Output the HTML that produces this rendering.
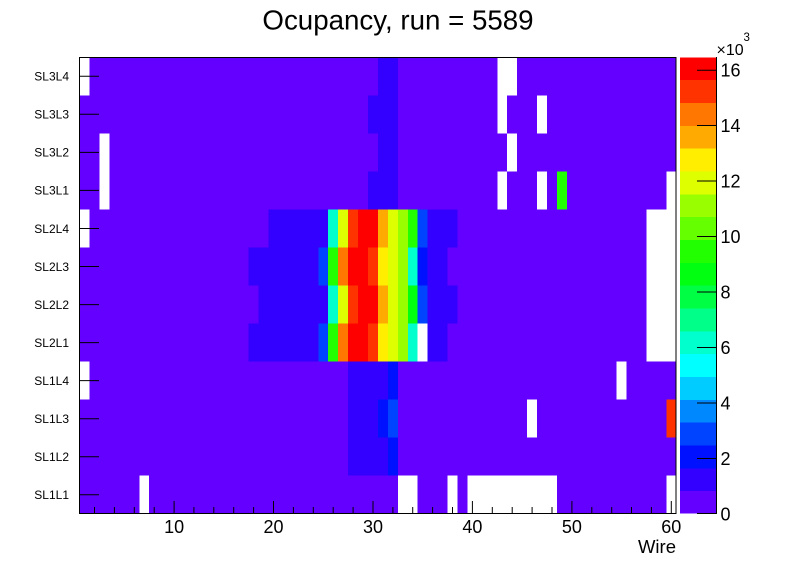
<!DOCTYPE html>
<html>
<head>
<meta charset="utf-8">
<style>
html,body{margin:0;padding:0;background:#fff;}
svg{display:block;}
text{font-family:"Liberation Sans",Arial,sans-serif;fill:#000;}
</style>
</head>
<body>
<svg width="796" height="572" viewBox="0 0 796 572" xmlns="http://www.w3.org/2000/svg">
<rect x="0" y="0" width="796" height="572" fill="#fff"/>
<text x="398" y="29.5" font-size="27.7" text-anchor="middle">Ocupancy, run = 5589</text>

<!-- plot cells in data units: x = wire-1, y = row index from top -->
<g transform="translate(79.6,57.3) scale(9.945,38.03)" shape-rendering="crispEdges">
<rect x="0" y="0" width="60" height="12" fill="#6300ff"/>
<!-- row 0 SL3L4 -->
<rect x="0" y="0" width="1" height="1" fill="#fff"/>
<rect x="30" y="0" width="2" height="1" fill="#3300ff"/>
<rect x="42" y="0" width="2" height="1" fill="#fff"/>
<!-- row 1 SL3L3 -->
<rect x="29" y="1" width="3" height="1" fill="#3300ff"/>
<rect x="42" y="1" width="1" height="1" fill="#fff"/>
<rect x="46" y="1" width="1" height="1" fill="#fff"/>
<!-- row 2 SL3L2 -->
<rect x="2" y="2" width="1" height="2" fill="#fff"/>
<rect x="30" y="2" width="2" height="1" fill="#3300ff"/>
<rect x="43" y="2" width="1" height="1" fill="#fff"/>
<!-- row 3 SL3L1 -->
<rect x="29" y="3" width="3" height="1" fill="#3300ff"/>
<rect x="42" y="3" width="1" height="1" fill="#fff"/>
<rect x="46" y="3" width="1" height="1" fill="#fff"/>
<rect x="48" y="3" width="1" height="1" fill="#22ff00"/>
<rect x="59" y="3" width="1" height="1" fill="#fff"/>
<!-- row 4 SL2L4 -->
<rect x="0" y="4" width="1" height="1" fill="#fff"/>
<rect x="19" y="4" width="6" height="1" fill="#3300ff"/>
<rect x="25" y="4" width="1" height="1" fill="#00ffcc"/>
<rect x="26" y="4" width="1" height="1" fill="#ddff00"/>
<rect x="27" y="4" width="1" height="1" fill="#ff3300"/>
<rect x="28" y="4" width="2" height="1" fill="#ff0000"/>
<rect x="30" y="4" width="1" height="1" fill="#ffaa00"/>
<rect x="31" y="4" width="1" height="1" fill="#ddff00"/>
<rect x="32" y="4" width="1" height="1" fill="#99ff00"/>
<rect x="33" y="4" width="1" height="1" fill="#22ff00"/>
<rect x="34" y="4" width="1" height="1" fill="#0044ff"/>
<rect x="35" y="4" width="3" height="1" fill="#3300ff"/>
<!-- row 5 SL2L3 -->
<rect x="17" y="5" width="7" height="1" fill="#3300ff"/>
<rect x="24" y="5" width="1" height="1" fill="#0044ff"/>
<rect x="25" y="5" width="1" height="1" fill="#22ff00"/>
<rect x="26" y="5" width="1" height="1" fill="#ff7700"/>
<rect x="27" y="5" width="2" height="1" fill="#ff0000"/>
<rect x="29" y="5" width="1" height="1" fill="#ff3300"/>
<rect x="30" y="5" width="1" height="1" fill="#ffee00"/>
<rect x="31" y="5" width="1" height="1" fill="#ddff00"/>
<rect x="32" y="5" width="1" height="1" fill="#99ff00"/>
<rect x="33" y="5" width="1" height="1" fill="#00ffcc"/>
<rect x="34" y="5" width="1" height="1" fill="#0011ff"/>
<rect x="35" y="5" width="2" height="1" fill="#3300ff"/>
<!-- row 6 SL2L2 -->
<rect x="18" y="6" width="7" height="1" fill="#3300ff"/>
<rect x="25" y="6" width="1" height="1" fill="#00ffcc"/>
<rect x="26" y="6" width="1" height="1" fill="#ddff00"/>
<rect x="27" y="6" width="1" height="1" fill="#ff3300"/>
<rect x="28" y="6" width="2" height="1" fill="#ff0000"/>
<rect x="30" y="6" width="1" height="1" fill="#ffaa00"/>
<rect x="31" y="6" width="1" height="1" fill="#ddff00"/>
<rect x="32" y="6" width="1" height="1" fill="#99ff00"/>
<rect x="33" y="6" width="1" height="1" fill="#00ff11"/>
<rect x="34" y="6" width="1" height="1" fill="#0044ff"/>
<rect x="35" y="6" width="3" height="1" fill="#3300ff"/>
<!-- row 7 SL2L1 -->
<rect x="17" y="7" width="7" height="1" fill="#3300ff"/>
<rect x="24" y="7" width="1" height="1" fill="#0044ff"/>
<rect x="25" y="7" width="1" height="1" fill="#22ff00"/>
<rect x="26" y="7" width="1" height="1" fill="#ff7700"/>
<rect x="27" y="7" width="2" height="1" fill="#ff0000"/>
<rect x="29" y="7" width="1" height="1" fill="#ff3300"/>
<rect x="30" y="7" width="1" height="1" fill="#ffee00"/>
<rect x="31" y="7" width="1" height="1" fill="#ddff00"/>
<rect x="32" y="7" width="1" height="1" fill="#99ff00"/>
<rect x="33" y="7" width="1" height="1" fill="#00ffcc"/>
<rect x="34" y="7" width="1" height="1" fill="#fff"/>
<rect x="35" y="7" width="2" height="1" fill="#3300ff"/>
<!-- SL2 right whites -->
<rect x="57" y="4" width="3" height="4" fill="#fff"/>
<!-- row 8 SL1L4 -->
<rect x="0" y="8" width="1" height="1" fill="#fff"/>
<rect x="27" y="8" width="4" height="1" fill="#3300ff"/>
<rect x="31" y="8" width="1" height="1" fill="#0011ff"/>
<rect x="54" y="8" width="1" height="1" fill="#fff"/>
<!-- row 9 SL1L3 -->
<rect x="27" y="9" width="3" height="1" fill="#3300ff"/>
<rect x="30" y="9" width="1" height="1" fill="#0011ff"/>
<rect x="31" y="9" width="1" height="1" fill="#0044ff"/>
<rect x="45" y="9" width="1" height="1" fill="#fff"/>
<rect x="59" y="9" width="1" height="1" fill="#ff3300"/>
<!-- row 10 SL1L2 -->
<rect x="27" y="10" width="4" height="1" fill="#3300ff"/>
<rect x="31" y="10" width="1" height="1" fill="#0011ff"/>
<!-- row 11 SL1L1 -->
<rect x="6" y="11" width="1" height="1" fill="#fff"/>
<rect x="32" y="11" width="2" height="1" fill="#fff"/>
<rect x="37" y="11" width="1" height="1" fill="#fff"/>
<rect x="39" y="11" width="9" height="1" fill="#fff"/>
<rect x="59" y="11" width="1" height="1" fill="#fff"/>
</g>

<!-- frame -->
<rect x="79.5" y="57.5" width="596.5" height="456" fill="none" stroke="#000" stroke-width="1"/>

<!-- x ticks -->
<g stroke="#000" stroke-width="1">
<line x1="94.5" y1="513.5" x2="94.5" y2="507"/>
<line x1="114.4" y1="513.5" x2="114.4" y2="507"/>
<line x1="134.3" y1="513.5" x2="134.3" y2="507"/>
<line x1="154.2" y1="513.5" x2="154.2" y2="507"/>
<line x1="174.1" y1="513.5" x2="174.1" y2="501"/>
<line x1="193.9" y1="513.5" x2="193.9" y2="507"/>
<line x1="213.8" y1="513.5" x2="213.8" y2="507"/>
<line x1="233.7" y1="513.5" x2="233.7" y2="507"/>
<line x1="253.6" y1="513.5" x2="253.6" y2="507"/>
<line x1="273.5" y1="513.5" x2="273.5" y2="501"/>
<line x1="293.4" y1="513.5" x2="293.4" y2="507"/>
<line x1="313.3" y1="513.5" x2="313.3" y2="507"/>
<line x1="333.2" y1="513.5" x2="333.2" y2="507"/>
<line x1="353.1" y1="513.5" x2="353.1" y2="507"/>
<line x1="373.0" y1="513.5" x2="373.0" y2="501"/>
<line x1="392.9" y1="513.5" x2="392.9" y2="507"/>
<line x1="412.7" y1="513.5" x2="412.7" y2="507"/>
<line x1="432.6" y1="513.5" x2="432.6" y2="507"/>
<line x1="452.5" y1="513.5" x2="452.5" y2="507"/>
<line x1="472.4" y1="513.5" x2="472.4" y2="501"/>
<line x1="492.3" y1="513.5" x2="492.3" y2="507"/>
<line x1="512.2" y1="513.5" x2="512.2" y2="507"/>
<line x1="532.1" y1="513.5" x2="532.1" y2="507"/>
<line x1="552.0" y1="513.5" x2="552.0" y2="507"/>
<line x1="571.9" y1="513.5" x2="571.9" y2="501"/>
<line x1="591.8" y1="513.5" x2="591.8" y2="507"/>
<line x1="611.7" y1="513.5" x2="611.7" y2="507"/>
<line x1="631.5" y1="513.5" x2="631.5" y2="507"/>
<line x1="651.4" y1="513.5" x2="651.4" y2="507"/>
<line x1="671.3" y1="513.5" x2="671.3" y2="501"/>
</g>
<g font-size="18" text-anchor="middle">
<text x="174.1" y="533">10</text>
<text x="273.5" y="533">20</text>
<text x="373.0" y="533">30</text>
<text x="472.4" y="533">40</text>
<text x="571.9" y="533">50</text>
<text x="671.3" y="533">60</text>
</g>
<text x="676" y="553" font-size="18.5" text-anchor="end">Wire</text>

<!-- y ticks and labels -->
<g stroke="#000" stroke-width="1">
<line x1="79.5" y1="76.3" x2="99" y2="76.3"/>
<line x1="79.5" y1="114.3" x2="99" y2="114.3"/>
<line x1="79.5" y1="152.4" x2="99" y2="152.4"/>
<line x1="79.5" y1="190.4" x2="99" y2="190.4"/>
<line x1="79.5" y1="228.5" x2="99" y2="228.5"/>
<line x1="79.5" y1="266.5" x2="99" y2="266.5"/>
<line x1="79.5" y1="304.6" x2="99" y2="304.6"/>
<line x1="79.5" y1="342.6" x2="99" y2="342.6"/>
<line x1="79.5" y1="380.6" x2="99" y2="380.6"/>
<line x1="79.5" y1="418.7" x2="99" y2="418.7"/>
<line x1="79.5" y1="456.7" x2="99" y2="456.7"/>
<line x1="79.5" y1="494.8" x2="99" y2="494.8"/>
</g>
<g font-size="12" text-anchor="end">
<text x="69" y="80.6">SL3L4</text>
<text x="69" y="118.6">SL3L3</text>
<text x="69" y="156.7">SL3L2</text>
<text x="69" y="194.7">SL3L1</text>
<text x="69" y="232.8">SL2L4</text>
<text x="69" y="270.8">SL2L3</text>
<text x="69" y="308.9">SL2L2</text>
<text x="69" y="346.9">SL2L1</text>
<text x="69" y="384.9">SL1L4</text>
<text x="69" y="423.0">SL1L3</text>
<text x="69" y="461.0">SL1L2</text>
<text x="69" y="499.1">SL1L1</text>
</g>

<!-- palette -->
<g shape-rendering="crispEdges">
<rect x="680" y="57.3" width="36" height="22.9" fill="#ff0000"/>
<rect x="680" y="80.1" width="36" height="22.9" fill="#ff3300"/>
<rect x="680" y="103.0" width="36" height="22.9" fill="#ff7700"/>
<rect x="680" y="125.8" width="36" height="22.9" fill="#ffaa00"/>
<rect x="680" y="148.6" width="36" height="22.9" fill="#ffee00"/>
<rect x="680" y="171.5" width="36" height="22.9" fill="#ddff00"/>
<rect x="680" y="194.3" width="36" height="22.9" fill="#99ff00"/>
<rect x="680" y="217.1" width="36" height="22.9" fill="#66ff00"/>
<rect x="680" y="240.0" width="36" height="22.9" fill="#22ff00"/>
<rect x="680" y="262.8" width="36" height="22.9" fill="#00ff11"/>
<rect x="680" y="285.6" width="36" height="22.9" fill="#00ff44"/>
<rect x="680" y="308.5" width="36" height="22.9" fill="#00ff88"/>
<rect x="680" y="331.3" width="36" height="22.9" fill="#00ffcc"/>
<rect x="680" y="354.1" width="36" height="22.9" fill="#00ffff"/>
<rect x="680" y="377.0" width="36" height="22.9" fill="#00ccff"/>
<rect x="680" y="399.8" width="36" height="22.9" fill="#0088ff"/>
<rect x="680" y="422.6" width="36" height="22.9" fill="#0044ff"/>
<rect x="680" y="445.5" width="36" height="22.9" fill="#0011ff"/>
<rect x="680" y="468.3" width="36" height="22.9" fill="#3300ff"/>
<rect x="680" y="491.1" width="36" height="22.6" fill="#6300ff"/>
</g>
<line x1="716.5" y1="57" x2="716.5" y2="514" stroke="#000" stroke-width="1"/>
<g stroke="#000" stroke-width="1">
<line x1="697" y1="513.5" x2="716.5" y2="513.5"/>
<line x1="697" y1="458.5" x2="716.5" y2="458.5"/>
<line x1="697" y1="403.0" x2="716.5" y2="403.0"/>
<line x1="697" y1="347.5" x2="716.5" y2="347.5"/>
<line x1="697" y1="292.0" x2="716.5" y2="292.0"/>
<line x1="697" y1="236.5" x2="716.5" y2="236.5"/>
<line x1="697" y1="181.0" x2="716.5" y2="181.0"/>
<line x1="697" y1="125.5" x2="716.5" y2="125.5"/>
<line x1="697" y1="70.3" x2="716.5" y2="70.3"/>
</g>
<g font-size="18">
<text x="720.5" y="520.5">0</text>
<text x="720.5" y="465">2</text>
<text x="720.5" y="409.5">4</text>
<text x="720.5" y="354">6</text>
<text x="720.5" y="298.5">8</text>
<text x="720.5" y="243">10</text>
<text x="720.5" y="187.5">12</text>
<text x="720.5" y="132">14</text>
<text x="720.5" y="76.7">16</text>
</g>
<text x="716.5" y="55" font-size="16">×10</text>
<text x="743.5" y="41" font-size="11.5">3</text>
</svg>
</body>
</html>
